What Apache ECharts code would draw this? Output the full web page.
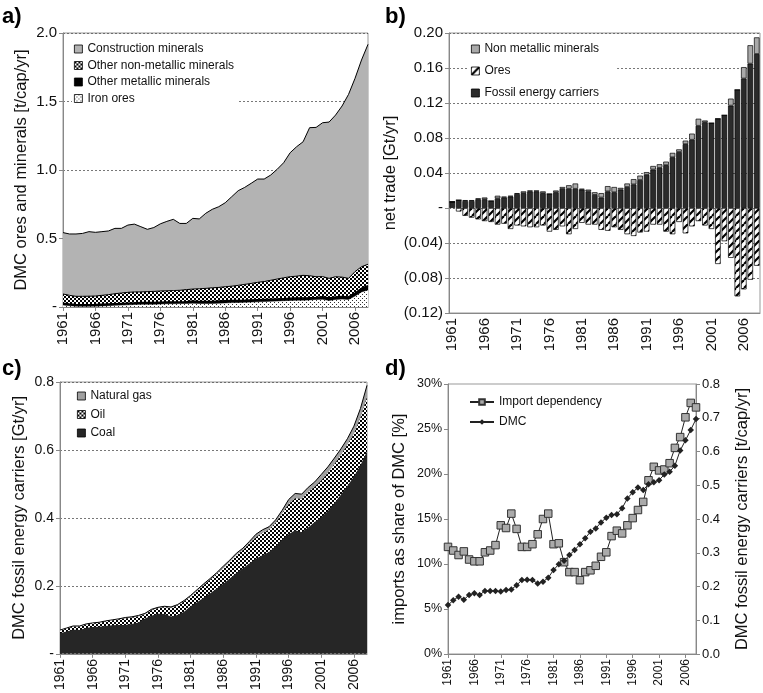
<!DOCTYPE html>
<html><head><meta charset="utf-8">
<script src="https://cdn.jsdelivr.net/npm/echarts@6/dist/echarts.min.js"></script>
<style>html,body{margin:0;padding:0;background:#fff}#c{width:763px;height:693px}</style>
</head><body><div id="c"></div>
<script>
const years = ['1961','1962','1963','1964','1965','1966','1967','1968','1969','1970','1971','1972','1973','1974','1975','1976','1977','1978','1979','1980','1981','1982','1983','1984','1985','1986','1987','1988','1989','1990','1991','1992','1993','1994','1995','1996','1997','1998','1999','2000','2001','2002','2003','2004','2005','2006','2007','2008'];

// Panel a: cumulative tops [t/cap/yr]
const constructionTop = [0.543,0.533,0.533,0.537,0.55,0.545,0.55,0.555,0.574,0.574,0.598,0.605,0.586,0.567,0.58,0.607,0.625,0.64,0.61,0.61,0.647,0.643,0.684,0.713,0.732,0.761,0.805,0.849,0.873,0.903,0.934,0.934,0.963,1.005,1.053,1.126,1.17,1.206,1.309,1.311,1.345,1.35,1.401,1.467,1.552,1.669,1.803,1.917];
const nonMetallicTop = [0.095,0.085,0.078,0.078,0.079,0.080,0.085,0.090,0.097,0.102,0.107,0.110,0.110,0.112,0.114,0.117,0.118,0.120,0.122,0.127,0.131,0.133,0.136,0.140,0.143,0.148,0.152,0.158,0.165,0.172,0.180,0.186,0.195,0.204,0.213,0.221,0.225,0.231,0.228,0.221,0.222,0.209,0.221,0.218,0.209,0.258,0.294,0.312];
const metallicTop = [0.027,0.022,0.018,0.017,0.017,0.018,0.020,0.022,0.024,0.026,0.028,0.030,0.032,0.032,0.032,0.034,0.036,0.036,0.037,0.038,0.043,0.041,0.040,0.041,0.043,0.045,0.047,0.048,0.049,0.051,0.053,0.055,0.057,0.059,0.061,0.063,0.065,0.065,0.067,0.070,0.074,0.066,0.073,0.076,0.073,0.102,0.137,0.155];
const ironOres = [0.015,0.010,0.006,0.005,0.005,0.006,0.008,0.010,0.012,0.014,0.016,0.018,0.020,0.020,0.020,0.022,0.024,0.024,0.025,0.026,0.028,0.026,0.025,0.026,0.028,0.030,0.032,0.033,0.034,0.036,0.038,0.040,0.042,0.044,0.046,0.048,0.050,0.050,0.052,0.055,0.056,0.048,0.055,0.058,0.055,0.080,0.110,0.125];

// Panel b: net trade [Gt/yr]
const fossilTrade = [0.007,0.009,0.008,0.008,0.010,0.010,0.008,0.011,0.012,0.013,0.016,0.017,0.019,0.019,0.017,0.016,0.018,0.022,0.022,0.022,0.021,0.019,0.015,0.012,0.019,0.018,0.021,0.024,0.027,0.032,0.038,0.044,0.046,0.049,0.058,0.064,0.073,0.078,0.094,0.098,0.097,0.102,0.106,0.117,0.135,0.148,0.165,0.176];
const nonMetTrade = [0,0,0.001,0.001,0.001,0.002,0,0.003,0.001,0.001,0.001,0.002,0.001,0.001,0.002,0,0.002,0.002,0.004,0.006,0.001,0.002,0.003,0.005,0.006,0.006,0.002,0.004,0.006,0.005,0.003,0.004,0.004,0.004,0.005,0.003,0.004,0.007,0.008,0.002,0,0,0,0.008,0,0.013,0.021,0.019];
const oresTrade = [0,-0.004,-0.009,-0.011,-0.013,-0.015,-0.016,-0.019,-0.018,-0.024,-0.020,-0.021,-0.022,-0.022,-0.020,-0.027,-0.025,-0.021,-0.030,-0.024,-0.017,-0.019,-0.019,-0.025,-0.026,-0.022,-0.025,-0.030,-0.032,-0.028,-0.027,-0.019,-0.019,-0.027,-0.030,-0.016,-0.029,-0.021,-0.015,-0.020,-0.024,-0.064,-0.038,-0.057,-0.101,-0.093,-0.082,-0.066];

// Panel c: cumulative tops [Gt/yr]
const gasTop = [0.070,0.076,0.082,0.082,0.088,0.091,0.093,0.097,0.100,0.103,0.107,0.109,0.113,0.119,0.131,0.137,0.140,0.138,0.145,0.157,0.172,0.189,0.206,0.222,0.239,0.258,0.276,0.296,0.311,0.331,0.352,0.365,0.374,0.394,0.422,0.454,0.472,0.470,0.490,0.506,0.528,0.550,0.576,0.603,0.633,0.670,0.722,0.790];
const oilTop = [0.068,0.074,0.080,0.080,0.086,0.089,0.091,0.095,0.098,0.101,0.104,0.106,0.110,0.116,0.128,0.134,0.137,0.135,0.142,0.154,0.168,0.185,0.202,0.218,0.235,0.252,0.270,0.290,0.305,0.325,0.343,0.356,0.365,0.385,0.413,0.440,0.458,0.456,0.476,0.492,0.510,0.532,0.558,0.585,0.615,0.648,0.695,0.755];
const coal = [0.061,0.066,0.071,0.070,0.076,0.079,0.080,0.082,0.084,0.085,0.085,0.088,0.092,0.104,0.112,0.118,0.117,0.110,0.114,0.124,0.140,0.152,0.165,0.178,0.192,0.206,0.222,0.238,0.252,0.266,0.280,0.290,0.300,0.316,0.336,0.352,0.364,0.358,0.372,0.388,0.402,0.420,0.443,0.468,0.494,0.522,0.555,0.596];

// Panel d
const importDependency = [11.9,11.5,11.0,11.4,10.5,10.3,10.3,11.3,11.5,12.1,14.3,14.0,15.6,13.9,11.9,11.9,12.2,13.3,15.0,15.6,12.2,12.3,10.2,9.1,9.1,8.2,9.1,9.3,9.8,10.8,11.3,13.1,13.7,13.4,14.3,15.1,16.0,16.9,19.3,20.8,20.4,20.5,21.2,22.9,24.1,26.3,27.9,27.4];
const dmcPerCap = [0.145,0.159,0.170,0.161,0.175,0.180,0.175,0.187,0.187,0.187,0.185,0.190,0.191,0.204,0.219,0.220,0.219,0.209,0.214,0.226,0.249,0.266,0.276,0.293,0.308,0.325,0.343,0.362,0.372,0.390,0.404,0.412,0.414,0.432,0.461,0.479,0.493,0.486,0.503,0.509,0.515,0.532,0.540,0.558,0.603,0.633,0.664,0.696];

// tick labels
const ticksA = ['-','0.5','1.0','1.5','2.0'];
const ticksB = ['(0.12)','(0.08)','(0.04)','-','0.04','0.08','0.12','0.16','0.20'];
const ticksC = ['-','0.2','0.4','0.6','0.8'];
const ticksDL = ['0%','5%','10%','15%','20%','25%','30%'];
const ticksDR = ['0.0','0.1','0.2','0.3','0.4','0.5','0.6','0.7','0.8'];

function pat(w, h, draw) {
  const c = document.createElement('canvas'); c.width = w; c.height = h;
  const g = c.getContext('2d'); draw(g); return {image: c, repeat: 'repeat'};
}
const dense = pat(4, 4, g => { g.fillStyle='#fff'; g.fillRect(0,0,4,4); g.fillStyle='#000'; g.fillRect(0,0,2,2); g.fillRect(2,2,2,2); });
const light = pat(4, 4, g => { g.fillStyle='#fff'; g.fillRect(0,0,4,4); g.fillStyle='#333'; g.fillRect(0,0,1,1); g.fillRect(2,2,1,1); });
const hatch = pat(8, 8, g => { g.fillStyle='#fff'; g.fillRect(0,0,8,8); g.strokeStyle='#000'; g.lineWidth=2.2;
  for (const k of [-8,0,8]) { g.beginPath(); g.moveTo(k,8); g.lineTo(k+8,0); g.stroke(); } });

const FONT = 'Liberation Sans, Arial, sans-serif';
const TXT = '#111';
const frame = {show:true, borderColor:'#999', borderWidth:1, backgroundColor:'#fff'};
const grid = {color:'#555', type:[2,2], width:0.8};

function catAxis(gi, gap, fs) {
  return {gridIndex:gi, type:'category', data:years, boundaryGap:gap,
    axisLine:{onZero:false, lineStyle:{color:'#888'}},
    axisTick:{interval:4, length:4, alignWithLabel:true, lineStyle:{color:'#888'}},
    axisLabel:{interval:4, rotate:90, fontSize:fs, color:TXT, margin:5, fontFamily:FONT},
    splitLine:{show:false}};
}
function valAxis(gi, min, max, iv, labels, name, gap, fs, extra) {
  return Object.assign({gridIndex:gi, type:'value', min, max, interval:iv,
    axisLine:{show:true, lineStyle:{color:'#888'}},
    axisTick:{show:true, length:4, lineStyle:{color:'#888'}},
    axisLabel:{fontSize:fs, color:TXT, fontFamily:FONT, margin:6,
      formatter: v => labels[Math.round((v - min) / iv)]},
    splitLine:{show:true, lineStyle:grid},
    name, nameLocation:'middle', nameGap:gap,
    nameTextStyle:{fontSize:16.5, color:TXT, fontFamily:FONT}}, extra || {});
}
function areaS(name, xi, data, fill, lw, z) {
  return {type:'line', name, xAxisIndex:xi, yAxisIndex:xi, data, showSymbol:false, symbol:'none',
    lineStyle:{color:'#000', width:lw}, areaStyle:{color:fill, opacity:1}, itemStyle:{color:fill}, z};
}
const legText = {fontSize:12, color:TXT, fontFamily:FONT};

const option = {
  animation:false,
  textStyle:{fontFamily:FONT},
  grid:[
    Object.assign({left:63, top:33, width:305, height:274}, frame),
    Object.assign({left:449, top:33, width:311, height:280}, frame),
    Object.assign({left:60, top:382, width:307, height:272}, frame),
    Object.assign({left:448, top:384, width:248, height:270}, frame)
  ],
  xAxis:[catAxis(0,false,15), catAxis(1,true,15), catAxis(2,false,14), catAxis(3,false,12)],
  yAxis:[
    valAxis(0, 0, 2, 0.5, ticksA, 'DMC ores and minerals [t/cap/yr]', 33, 15),
    valAxis(1, -0.12, 0.2, 0.04, ticksB, 'net trade [Gt/yr]', 50, 15),
    valAxis(2, 0, 0.8, 0.2, ticksC, 'DMC fossil energy carriers [Gt/yr]', 32, 14),
    valAxis(3, 0, 30, 5, ticksDL, 'imports as share of DMC [%]', 40, 12.5, {splitLine:{show:false}}),
    valAxis(3, 0, 0.8, 0.1, ticksDR, 'DMC fossil energy carriers [t/cap/yr]', 38, 13, {position:'right', splitLine:{show:false}})
  ],
  legend:[
    {orient:'vertical', left:72, top:41, itemGap:4.5, icon:'rect', itemWidth:8, itemHeight:8,
     backgroundColor:'#fff', padding:[2,4,2,2], textStyle:legText,
     itemStyle:{borderColor:'#000', borderWidth:0.8},
     data:[{name:'Construction minerals', itemStyle:{color:'#b3b3b3'}},
           {name:'Other non-metallic minerals', itemStyle:{color:dense}},
           {name:'Other metallic minerals', itemStyle:{color:'#000'}},
           {name:'Iron ores', itemStyle:{color:light}}]},
    {orient:'vertical', left:469, top:41, itemGap:10, icon:'rect', itemWidth:8, itemHeight:8,
     backgroundColor:'#fff', padding:[2,18,2,2], textStyle:legText,
     itemStyle:{borderColor:'#000', borderWidth:0.8},
     data:[{name:'Non metallic minerals', itemStyle:{color:'#a9a9a9'}},
           {name:'Ores', itemStyle:{color:hatch}},
           {name:'Fossil energy carriers', itemStyle:{color:'#2b2b2b'}}]},
    {orient:'vertical', left:75, top:388, itemGap:6.5, icon:'rect', itemWidth:8, itemHeight:8,
     backgroundColor:'#fff', padding:[2,4,2,2], textStyle:legText,
     itemStyle:{borderColor:'#000', borderWidth:0.8},
     data:[{name:'Natural gas', itemStyle:{color:'#a0a0a0'}},
           {name:'Oil', itemStyle:{color:dense}},
           {name:'Coal', itemStyle:{color:'#262626'}}]},
    {orient:'vertical', left:464, top:391, itemGap:8, itemWidth:24, itemHeight:7,
     textStyle:legText, data:['Import dependency','DMC']}
  ],
  graphic:[
    {type:'text', left:2, top:6, style:{text:'a)', font:'bold 22px '+FONT, fill:'#000'}},
    {type:'text', left:385, top:6, style:{text:'b)', font:'bold 22px '+FONT, fill:'#000'}},
    {type:'text', left:2, top:358, style:{text:'c)', font:'bold 22px '+FONT, fill:'#000'}},
    {type:'text', left:385, top:358, style:{text:'d)', font:'bold 22px '+FONT, fill:'#000'}}
  ],
  series:[
    areaS('Construction minerals', 0, constructionTop, '#b3b3b3', 1, 2),
    areaS('Other non-metallic minerals', 0, nonMetallicTop, dense, 1, 3),
    areaS('Other metallic minerals', 0, metallicTop, '#000', 1.5, 4),
    areaS('Iron ores', 0, ironOres, light, 0.5, 5),

    {type:'bar', name:'Fossil energy carriers', xAxisIndex:1, yAxisIndex:1, stack:'b', data:fossilTrade,
     barCategoryGap:'14%', itemStyle:{color:'#2b2b2b', borderColor:'#000', borderWidth:0.7}},
    {type:'bar', name:'Non metallic minerals', xAxisIndex:1, yAxisIndex:1, stack:'b', data:nonMetTrade,
     itemStyle:{color:'#a9a9a9', borderColor:'#000', borderWidth:0.7}},
    {type:'bar', name:'Ores', xAxisIndex:1, yAxisIndex:1, stack:'b', data:oresTrade,
     itemStyle:{color:hatch, borderColor:'#000', borderWidth:0.7}},

    areaS('Natural gas', 2, gasTop, '#a0a0a0', 1, 2),
    areaS('Oil', 2, oilTop, dense, 0, 3),
    areaS('Coal', 2, coal, '#262626', 0, 4),

    {type:'line', name:'Import dependency', xAxisIndex:3, yAxisIndex:3, data:importDependency,
     symbol:'rect', symbolSize:7.5, showSymbol:true, showAllSymbol:true,
     itemStyle:{color:'#aaa', borderColor:'#333', borderWidth:1}, lineStyle:{color:'#222', width:1}},
    {type:'line', name:'DMC', xAxisIndex:3, yAxisIndex:4, data:dmcPerCap,
     symbol:'diamond', symbolSize:6.5, showSymbol:true, showAllSymbol:true,
     itemStyle:{color:'#222'}, lineStyle:{color:'#222', width:1}}
  ]
};
const chart = echarts.init(document.getElementById('c'), null, {renderer:'canvas'});
chart.setOption(option);
</script></body></html>
